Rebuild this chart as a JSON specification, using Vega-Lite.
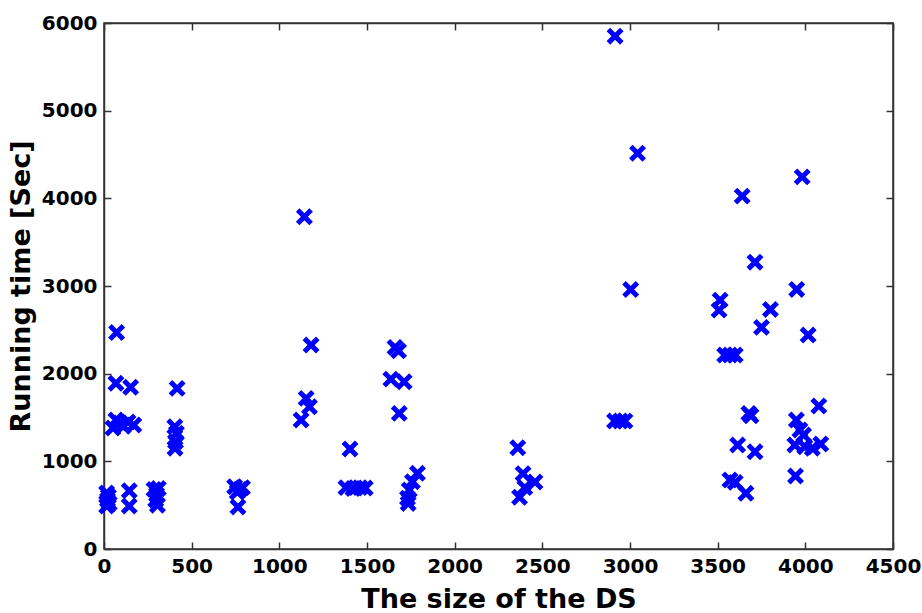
{
  "$schema": "https://vega.github.io/schema/vega-lite/v6.json",
  "autosize": "none",
  "width": 789,
  "height": 526,
  "padding": {"left": 104, "top": 23, "right": 29, "bottom": 64},
  "background": "white",
  "config": {
    "view": {"stroke": "#333333", "strokeWidth": 1.5},
    "axis": {
      "labelFont": "DejaVu Sans",
      "labelFontWeight": "bold",
      "labelFontSize": 20,
      "labelColor": "black",
      "titleFont": "DejaVu Sans",
      "titleFontWeight": "bold",
      "titleFontSize": 27,
      "titleColor": "black",
      "grid": false,
      "domainColor": "#333333",
      "domainWidth": 1.5,
      "tickColor": "#333333",
      "tickWidth": 1.5,
      "tickSize": -7,
      "format": "d"
    }
  },
  "data": {"values": [
    {"size": 15, "time": 640}, {"size": 25, "time": 600}, {"size": 20, "time": 560}, {"size": 30, "time": 520}, {"size": 15, "time": 490},
    {"size": 72, "time": 2470}, {"size": 68, "time": 1890}, {"size": 152, "time": 1845}, {"size": 51, "time": 1380}, {"size": 91, "time": 1437},
    {"size": 137, "time": 1448}, {"size": 170, "time": 1414}, {"size": 68, "time": 1471}, {"size": 110, "time": 1400}, {"size": 144, "time": 665}, {"size": 144, "time": 490},
    {"size": 285, "time": 680}, {"size": 300, "time": 620}, {"size": 295, "time": 560}, {"size": 305, "time": 500}, {"size": 310, "time": 690},
    {"size": 417, "time": 1832}, {"size": 404, "time": 1395}, {"size": 413, "time": 1320}, {"size": 408, "time": 1225}, {"size": 405, "time": 1150},
    {"size": 745, "time": 710}, {"size": 790, "time": 700}, {"size": 760, "time": 650}, {"size": 775, "time": 680}, {"size": 764, "time": 480},
    {"size": 1143, "time": 3790}, {"size": 1181, "time": 2326}, {"size": 1153, "time": 1718}, {"size": 1172, "time": 1623}, {"size": 1124, "time": 1471},
    {"size": 1403, "time": 1140}, {"size": 1380, "time": 700}, {"size": 1420, "time": 690}, {"size": 1460, "time": 700}, {"size": 1490, "time": 695},
    {"size": 1660, "time": 2300}, {"size": 1680, "time": 2260}, {"size": 1636, "time": 1938}, {"size": 1712, "time": 1908}, {"size": 1684, "time": 1547},
    {"size": 1788, "time": 863}, {"size": 1759, "time": 768}, {"size": 1741, "time": 673}, {"size": 1731, "time": 580}, {"size": 1735, "time": 520},
    {"size": 2360, "time": 1155}, {"size": 2390, "time": 860}, {"size": 2458, "time": 764}, {"size": 2400, "time": 700}, {"size": 2370, "time": 590},
    {"size": 2915, "time": 5850}, {"size": 3043, "time": 4515}, {"size": 3004, "time": 2960}, {"size": 2912, "time": 1460}, {"size": 2945, "time": 1460}, {"size": 2971, "time": 1460},
    {"size": 3982, "time": 4245}, {"size": 3640, "time": 4025}, {"size": 3713, "time": 3272}, {"size": 3951, "time": 2961}, {"size": 3514, "time": 2839},
    {"size": 3508, "time": 2725}, {"size": 3801, "time": 2733}, {"size": 3750, "time": 2528}, {"size": 4016, "time": 2440}, {"size": 3540, "time": 2212},
    {"size": 3570, "time": 2212}, {"size": 3600, "time": 2212}, {"size": 4077, "time": 1631}, {"size": 3678, "time": 1547}, {"size": 3690, "time": 1520},
    {"size": 3949, "time": 1471}, {"size": 3969, "time": 1357}, {"size": 3990, "time": 1300}, {"size": 3940, "time": 1186}, {"size": 3997, "time": 1166},
    {"size": 4040, "time": 1150}, {"size": 4088, "time": 1197}, {"size": 3614, "time": 1186}, {"size": 3713, "time": 1110}, {"size": 3944, "time": 832},
    {"size": 3570, "time": 787}, {"size": 3600, "time": 760}, {"size": 3661, "time": 635}
  ]},
  "layer": [
    {
      "mark": {"type": "point", "shape": "M-1,-1L1,1M-1,1L1,-1", "filled": false, "stroke": "#0000FF", "strokeWidth": 5, "size": 180, "opacity": 1, "clip": false},
      "encoding": {
        "x": {"field": "size", "type": "quantitative", "scale": {"domain": [0, 4500], "nice": false, "zero": true},
              "axis": {"orient": "bottom", "values": [0, 500, 1000, 1500, 2000, 2500, 3000, 3500, 4000, 4500], "title": "The size of the DS", "labelPadding": 14, "titlePadding": 10, "labelFlush": false}},
        "y": {"field": "time", "type": "quantitative", "scale": {"domain": [0, 6000], "nice": false, "zero": true},
              "axis": {"orient": "left", "values": [0, 1000, 2000, 3000, 4000, 5000, 6000], "title": "Running time [Sec]", "labelPadding": 14, "titlePadding": 6, "labelFlush": false}}
      }
    },
    {
      "mark": {"type": "point", "opacity": 0},
      "encoding": {
        "x": {"field": "size", "type": "quantitative", "axis": {"orient": "top", "values": [0, 500, 1000, 1500, 2000, 2500, 3000, 3500, 4000, 4500], "labels": false, "title": null}},
        "y": {"field": "time", "type": "quantitative", "axis": {"orient": "right", "values": [0, 1000, 2000, 3000, 4000, 5000, 6000], "labels": false, "title": null}}
      }
    }
  ],
  "resolve": {"axis": {"x": "independent", "y": "independent"}}
}
